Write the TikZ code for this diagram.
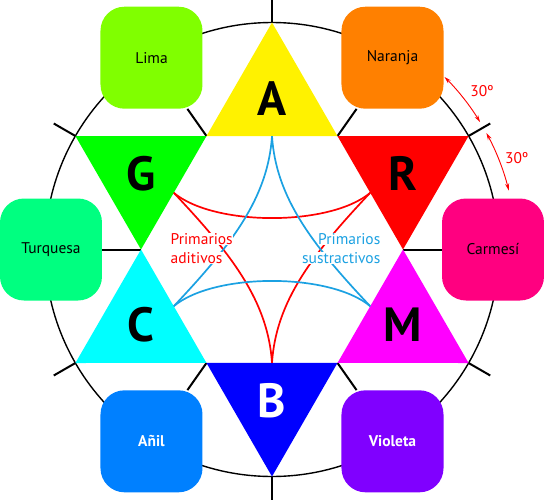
\documentclass[tikz,border=0pt]{standalone}
\usepackage{fontspec}
\setmainfont{PT Sans}
\usetikzlibrary{arrows.meta}

\definecolor{lima}{RGB}{128,255,0}
\definecolor{naranja}{RGB}{255,128,0}
\definecolor{turquesa}{RGB}{0,255,128}
\definecolor{carmesi}{RGB}{255,0,128}
\definecolor{anil}{RGB}{0,128,255}
\definecolor{violeta}{RGB}{128,0,255}
\definecolor{cian}{RGB}{0,255,255}
\definecolor{fucsia}{RGB}{255,0,255}
\definecolor{celeste}{RGB}{27,161,226}

\begin{document}
\begin{tikzpicture}[x=1pt, y=1pt,
    caja/.style={rounded corners=24pt, minimum size=102pt, inner sep=0pt, font=\fontsize{15.5}{18}\selectfont},
    cajaosc/.style={caja, text=white, font=\fontsize{15.5}{18}\selectfont\bfseries},
    letra/.style={inner sep=0pt, font=\fontsize{48}{50}\selectfont\bfseries},
    rayo/.style={line width=2pt},
    marca/.style={line width=2pt},
    curva/.style={line width=1.7pt},
    rotulo/.style={fill=white, inner sep=0.5pt, font=\fontsize{15.5}{18}\selectfont},
    angulo/.style={red, line width=0.9pt, {Stealth[length=7pt,width=4pt]}-{Stealth[length=7pt,width=4pt]}}]
    \useasboundingbox (-272,-249.5) rectangle (272,249.5);

    % Hexagon corners, outer tips and edge midpoints
    \coordinate (h0) at (0:131);
    \coordinate (h60) at (60:131);
    \coordinate (h120) at (120:131);
    \coordinate (h180) at (180:131);
    \coordinate (h240) at (240:131);
    \coordinate (h300) at (300:131);
    \coordinate (pA) at (90:227);
    \coordinate (pR) at (30:227);
    \coordinate (pM) at (-30:227);
    \coordinate (pB) at (-90:227);
    \coordinate (pC) at (210:227);
    \coordinate (pG) at (150:227);
    \coordinate (mA) at (90:113.4);
    \coordinate (mR) at (30:113.4);
    \coordinate (mM) at (-30:113.4);
    \coordinate (mB) at (-90:113.4);
    \coordinate (mC) at (210:113.4);
    \coordinate (mG) at (150:113.4);
    % free ends of the ticks
    \coordinate (tA) at (90:252);
    \coordinate (tR) at (30:252);
    \coordinate (tM) at (-30:252);
    \coordinate (tB) at (-90:252);
    \coordinate (tC) at (210:252);
    \coordinate (tG) at (150:252);

    % Circle and tick marks
    \draw[line width=1.4pt] (0,0) circle [radius=227];
    \draw[marca] (pA) -- (tA);
    \draw[marca] (pR) -- (tR);
    \draw[marca] (pM) -- (tM);
    \draw[marca] (pB) -- (tB);
    \draw[marca] (pC) -- (tC);
    \draw[marca] (pG) -- (tG);

    % Secondary colours
    \node[caja, fill=lima] (lima) at (-120.5,191.8) {Lima};
    \node[caja, fill=naranja] (naranja) at (120.5,191.8) {Naranja};
    \node[caja, fill=turquesa] (turquesa) at (-221,0) {Turquesa};
    \node[caja, fill=carmesi] (carmesi) at (221,0) {Carmesí};
    \node[cajaosc, fill=anil] (anil) at (-120.5,-191.8) {Añil};
    \node[cajaosc, fill=violeta] (violeta) at (120.5,-191.8) {Violeta};

    % Spokes to the boxes
    \draw[rayo] (h0) -- (carmesi);
    \draw[rayo] (h60) -- (naranja);
    \draw[rayo] (h120) -- (lima);
    \draw[rayo] (h180) -- (turquesa);
    \draw[rayo] (h240) -- (anil);
    \draw[rayo] (h300) -- (violeta);

    % Primary triangles
    \fill[yellow] (h60) -- (h120) -- (pA) -- cycle;
    \fill[red] (h0) -- (h60) -- (pR) -- cycle;
    \fill[fucsia] (h300) -- (h0) -- (pM) -- cycle;
    \fill[blue] (h240) -- (h300) -- (pB) -- cycle;
    \fill[cian] (h180) -- (h240) -- (pC) -- cycle;
    \fill[green] (h120) -- (h180) -- (pG) -- cycle;
    \node[letra] (A) at (90:151.3) {A};
    \node[letra] (R) at (30:151.3) {R};
    \node[letra] (M) at (-30:151.3) {M};
    \node[letra, text=white] (B) at (-90:151.3) {B};
    \node[letra] (C) at (210:151.3) {C};
    \node[letra] (G) at (150:151.3) {G};

    % Additive and subtractive primaries
    \draw[curva, red] (mG) .. controls (-58,23) and (58,23) .. (mR);
    \draw[curva, red] (mG) .. controls (-40,-5) and (-4,-52) .. (mB);
    \draw[curva, red] (mR) .. controls (40,-5) and (4,-52) .. (mB);
    \draw[curva, celeste] (mC) .. controls (-58,-23) and (58,-23) .. (mM);
    \draw[curva, celeste] (mC) .. controls (-40,5) and (-4,52) .. (mA);
    \draw[curva, celeste] (mM) .. controls (40,5) and (4,52) .. (mA);
    \node[rotulo, text=red, anchor=base west] (adit1) at (-102,5) {Primarios};
    \node[rotulo, text=red, anchor=base west] (adit2) at (-102,-13.8) {aditivos};
    \node[rotulo, text=celeste, anchor=base east] (sust1) at (109,5) {Primarios};
    \node[rotulo, text=celeste, anchor=base east] (sust2) at (109,-13.8) {sustractivos};

    % Angle marks
    \draw[angulo] (45:244) arc[start angle=45, end angle=31.5, radius=244];
    \draw[angulo] (28.5:244) arc[start angle=28.5, end angle=14, radius=244];
    \node[text=red, font=\fontsize{15.5}{18}\selectfont] (ang1) at (210,158.5) {30º};
    \node[text=red, font=\fontsize{15.5}{18}\selectfont] (ang2) at (244.7,91.2) {30º};
\end{tikzpicture}
\end{document}
